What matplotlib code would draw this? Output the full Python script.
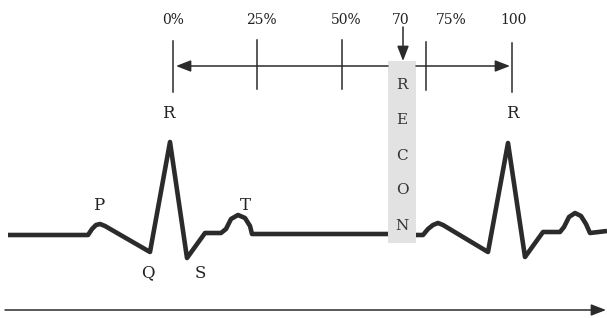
import matplotlib.pyplot as plt
from matplotlib.patches import Rectangle

plt.rcParams['font.family'] = ['DejaVu Serif']

# ECG trace, first beat (pixel-like coordinates)
beat1_x = [8, 88, 92, 96, 100, 105, 150, 170, 187, 205, 221, 226, 231, 238, 245, 250, 252, 388]
beat1_y = [235, 235, 229, 225, 224, 226, 252, 142, 258, 233, 233, 229, 219, 215, 218, 226, 234, 234]
# second beat, after the recon window
beat2_x = [416, 423, 428, 433, 438, 443, 488, 508, 525, 543, 560, 564, 569, 575, 581, 586, 590, 607]
beat2_y = [235, 235, 229, 225, 223, 225, 252, 143, 257, 232, 232, 227, 217, 213, 216, 224, 233, 231]

# R-R interval scale
tick_x = [173, 257, 342, 426, 512]
tick_top = [41, 40, 40, 42, 43]
tick_bot = [92, 89, 89, 90, 92]
pct_labels = ['0%', '25%', '50%', '70', '75%', '100']
pct_x = [173, 261, 346, 401, 451, 513]

recon_letters = ['R', 'E', 'C', 'O', 'N']
recon_y = [85, 120, 156, 190, 226]

wave_labels = ['R', 'R', 'P', 'Q', 'S', 'T']
wave_x = [168, 512, 99, 148, 200, 245]
wave_y = [113, 113, 205, 273, 273, 205]

fig = plt.figure(figsize=(6.07, 3.18), dpi=100)
ax = fig.add_axes([0, 0, 1, 1])
ax.set_xlim(0, 607)
ax.set_ylim(318, 0)
ax.axis('off')

ink = '#2b2b2b'

# recon window box
ax.add_patch(Rectangle((388, 61), 28, 182, facecolor='#e2e2e2', edgecolor='none', zorder=1))
for letter, y in zip(recon_letters, recon_y):
    ax.text(402, y, letter, ha='center', va='center', fontsize=11, color='#333333', zorder=3)

# ECG
for bx, by in [(beat1_x, beat1_y), (beat2_x, beat2_y)]:
    ax.plot(bx, by, color=ink, lw=3.3, solid_joinstyle='round', solid_capstyle='butt', zorder=2)

# scale ticks
for x, t, b in zip(tick_x, tick_top, tick_bot):
    ax.plot([x, x], [t, b], color=ink, lw=1.1)

for lab, x in zip(pct_labels, pct_x):
    ax.text(x, 20, lab, ha='center', va='center', fontsize=10, color='#222222')

arrow_kw = dict(arrowstyle='-|>,head_length=0.9,head_width=0.35', color=ink, lw=1.1, shrinkA=0, shrinkB=0)
# left and right halves of the interval arrow
ax.annotate('', xy=(176, 66), xytext=(388, 66), arrowprops=arrow_kw)
ax.annotate('', xy=(510, 66), xytext=(416, 66), arrowprops=arrow_kw)
# 70% marker
ax.annotate('', xy=(403, 61), xytext=(403, 27), arrowprops=arrow_kw)
# time axis
ax.annotate('', xy=(606, 310), xytext=(5, 310), arrowprops=arrow_kw)

for lab, x, y in zip(wave_labels, wave_x, wave_y):
    ax.text(x, y, lab, ha='center', va='center', fontsize=12, color='#222222')

fig.savefig('out.png', dpi=100)
